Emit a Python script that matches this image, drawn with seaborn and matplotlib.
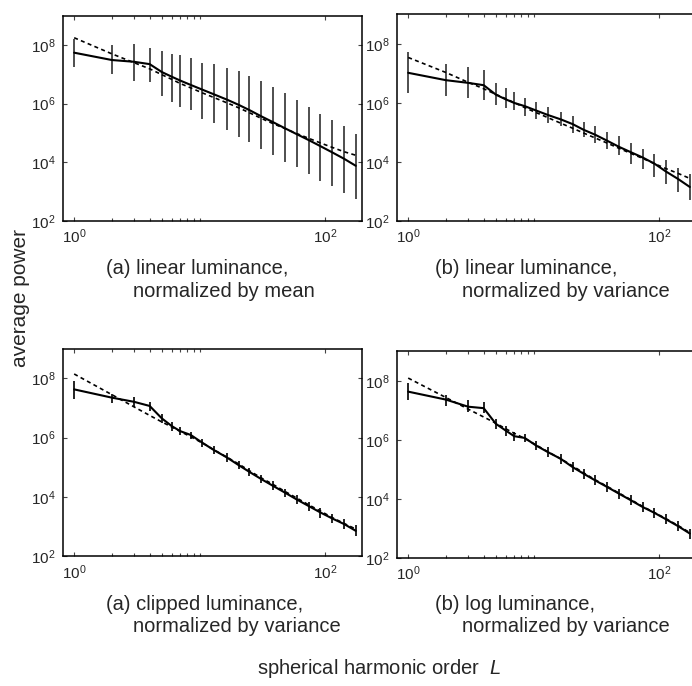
import numpy as np
import matplotlib
matplotlib.use("Agg")
import matplotlib.pyplot as plt
import matplotlib.ticker as mticker
import seaborn as sns

# spherical harmonic order (bin centres)
L = [1, 2, 3, 4, 5, 6, 7, 8.5, 10.5, 13, 16.5, 20.5, 25, 31, 38.5, 48, 59.5, 74, 92, 114, 142, 176]

# values, stored as log10(power)
# (a) linear luminance, normalized by mean
p1_mean = [7.74, 7.49, 7.43, 7.35, 7.08, 6.92, 6.79, 6.64, 6.48, 6.32, 6.14, 5.96,
           5.78, 5.57, 5.37, 5.16, 4.96, 4.76, 4.55, 4.34, 4.12, 3.88]
p1_fit = [8.25, 7.70, 7.40, 7.19, 6.99, 6.83, 6.69, 6.54, 6.37, 6.21, 6.03, 5.86,
          5.69, 5.50, 5.32, 5.15, 4.98, 4.82, 4.66, 4.51, 4.36, 4.24]
p1_hi = [8.22, 7.99, 8.05, 7.91, 7.80, 7.70, 7.65, 7.56, 7.40, 7.34, 7.23, 7.11,
         6.96, 6.79, 6.58, 6.35, 6.14, 5.89, 5.66, 5.46, 5.25, 4.97]
p1_lo = [7.25, 7.00, 6.79, 6.73, 6.26, 6.07, 5.88, 5.78, 5.49, 5.34, 5.09, 4.85,
         4.68, 4.45, 4.24, 4.02, 3.83, 3.61, 3.37, 3.18, 2.95, 2.74]

# (b) linear luminance, normalized by variance
p2_mean = [7.02, 6.77, 6.68, 6.60, 6.28, 6.12, 6.00, 5.89, 5.74, 5.59, 5.44, 5.28,
           5.09, 4.92, 4.72, 4.51, 4.33, 4.15, 3.94, 3.67, 3.42, 3.15]
p2_fit = [7.54, 7.03, 6.70, 6.48, 6.29, 6.14, 6.01, 5.84, 5.67, 5.50, 5.31, 5.14,
          4.98, 4.81, 4.64, 4.46, 4.29, 4.12, 3.94, 3.77, 3.61, 3.44]
p2_hi = [7.71, 7.31, 7.22, 7.11, 6.66, 6.49, 6.37, 6.18, 6.03, 5.86, 5.70, 5.56,
         5.35, 5.21, 5.02, 4.87, 4.64, 4.45, 4.28, 4.06, 3.80, 3.58]
p2_lo = [6.32, 6.24, 6.17, 6.11, 5.94, 5.83, 5.75, 5.57, 5.47, 5.32, 5.21, 4.98,
         4.83, 4.64, 4.44, 4.23, 3.94, 3.76, 3.49, 3.24, 2.98, 2.70]

# (a) clipped luminance, normalized by variance
p3_mean = [7.63, 7.35, 7.21, 7.07, 6.65, 6.39, 6.22, 6.09, 5.83, 5.58, 5.33, 5.07,
           4.84, 4.60, 4.37, 4.14, 3.91, 3.69, 3.47, 3.27, 3.08, 2.85]
p3_fit = [8.15, 7.45, 7.04, 6.75, 6.53, 6.36, 6.21, 6.03, 5.82, 5.59, 5.34, 5.11,
          4.88, 4.64, 4.42, 4.18, 3.96, 3.73, 3.52, 3.30, 3.10, 2.91]
p3_hi = [7.91, 7.49, 7.38, 7.21, 6.80, 6.54, 6.37, 6.20, 5.97, 5.73, 5.47, 5.22,
         4.98, 4.75, 4.52, 4.28, 4.06, 3.83, 3.62, 3.42, 3.24, 3.05]
p3_lo = [7.30, 7.16, 7.02, 6.90, 6.50, 6.23, 6.09, 5.94, 5.67, 5.44, 5.19, 4.93,
         4.70, 4.45, 4.23, 3.98, 3.76, 3.53, 3.30, 3.10, 2.90, 2.67]

# (b) log luminance, normalized by variance
p4_mean = [7.63, 7.36, 7.12, 7.07, 6.54, 6.31, 6.12, 6.06, 5.80, 5.58, 5.35, 5.07,
           4.85, 4.62, 4.40, 4.17, 3.95, 3.72, 3.52, 3.30, 3.07, 2.82]
p4_fit = [8.09, 7.43, 7.04, 6.77, 6.56, 6.37, 6.22, 6.04, 5.82, 5.59, 5.35, 5.11,
          4.88, 4.64, 4.42, 4.19, 3.97, 3.74, 3.53, 3.32, 3.09, 2.85]
p4_hi = [7.91, 7.53, 7.35, 7.27, 6.71, 6.48, 6.26, 6.20, 5.97, 5.75, 5.52, 5.24,
         5.02, 4.79, 4.57, 4.34, 4.12, 3.89, 3.69, 3.47, 3.24, 2.99]
p4_lo = [7.36, 7.16, 6.93, 6.90, 6.37, 6.14, 5.95, 5.92, 5.64, 5.41, 5.19, 4.90,
         4.68, 4.45, 4.23, 4.00, 3.78, 3.55, 3.35, 3.14, 2.90, 2.65]

captions = [("(a) linear luminance,", "normalized by mean"),
            ("(b) linear luminance,", "normalized by variance"),
            ("(a) clipped luminance,", "normalized by variance"),
            ("(b) log luminance,", "normalized by variance")]

sns.set_style("ticks")
plt.rcParams['font.family'] = ['Liberation Sans', 'DejaVu Sans']
plt.rcParams['mathtext.fontset'] = 'custom'
plt.rcParams['mathtext.rm'] = 'Liberation Sans'
plt.rcParams['mathtext.it'] = 'Liberation Sans:italic'

fig = plt.figure(figsize=(6.92, 6.86), dpi=100)
positions = [[0.0906, 0.678, 0.432, 0.299],
             [0.5733, 0.678, 0.432, 0.301],
             [0.0906, 0.1895, 0.432, 0.302],
             [0.5733, 0.187, 0.432, 0.301]]
panels = [(p1_mean, p1_fit, p1_hi, p1_lo, '#404040'),
          (p2_mean, p2_fit, p2_hi, p2_lo, '#404040'),
          (p3_mean, p3_fit, p3_hi, p3_lo, '#111111'),
          (p4_mean, p4_fit, p4_hi, p4_lo, '#111111')]


def pow_fmt(v, pos):
    return r'$\mathregular{10^{%d}}$' % int(round(np.log10(v)))


for pos, (mean, fit, hi, lo, ecol) in zip(positions, panels):
    ax = fig.add_axes(pos)
    ax.set_xscale('log')
    ax.set_yscale('log')
    ax.vlines(L, 10 ** np.array(lo), 10 ** np.array(hi), color=ecol, lw=1.3)
    sns.lineplot(x=L, y=10 ** np.array(fit), ax=ax, color='k', lw=1.2,
                 dashes=False, linestyle=(0, (2.4, 2.0)))
    sns.lineplot(x=L, y=10 ** np.array(mean), ax=ax, color='k', lw=1.5)
    ax.set_xlim(0.81, 196)
    ax.set_ylim(1e2, 1e9)
    ax.xaxis.set_major_locator(mticker.FixedLocator([1, 100]))
    ax.xaxis.set_minor_locator(mticker.FixedLocator([2, 3, 4, 5, 6, 7, 8, 9, 10]))
    ax.yaxis.set_major_locator(mticker.FixedLocator([1e2, 1e4, 1e6, 1e8]))
    ax.yaxis.set_minor_locator(mticker.NullLocator())
    ax.xaxis.set_major_formatter(mticker.FuncFormatter(pow_fmt))
    ax.yaxis.set_major_formatter(mticker.FuncFormatter(pow_fmt))
    ax.xaxis.set_minor_formatter(mticker.NullFormatter())
    ax.tick_params(which='both', direction='in', top=True, right=True,
                   labelsize=11, width=0.8, color='#444444')
    ax.tick_params(which='major', length=3, pad=5)
    ax.tick_params(which='minor', length=2)
    for s in ax.spines.values():
        s.set_linewidth(1.1)
        s.set_color('k')

# captions under each panel (pixel coordinates converted to figure fraction)
cap_xy = [(106, 269), (435, 269), (106, 604), (435, 604)]
for (t1, t2), (px, py) in zip(captions, cap_xy):
    fig.text(px / 692, 1 - py / 686, t1, fontsize=14.5, ha='left', va='center')
    fig.text((px + 27) / 692, 1 - (py + 23) / 686, t2, fontsize=14.5,
             ha='left', va='center')

fig.text(0.03, 1 - 298 / 686, 'average power', rotation=90, fontsize=15,
         ha='center', va='center')
fig.text(257 / 692, 1 - 668 / 686, r'spherical harmonic order  $\it{L}$',
         fontsize=14.5, ha='left', va='center')

fig.savefig('out.png', dpi=100)
